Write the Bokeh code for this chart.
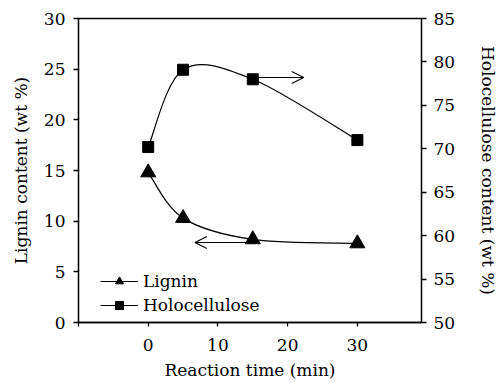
from bokeh.plotting import figure
from bokeh.models import (Range1d, LinearAxis, FixedTicker, Legend, LegendItem,
                          Arrow, OpenHead)
from bokeh.embed import file_html
from bokeh.resources import INLINE

# ---- data ----
time_min = [0, 5, 15, 30]
lignin = [14.8, 10.3, 8.2, 7.8]
holocellulose = [70.2, 79.1, 78.0, 71.0]

x_ticks = [-10, 0, 10, 20, 30]
left_ticks = [0, 5, 10, 15, 20, 25, 30]
right_ticks = [50, 55, 60, 65, 70, 75, 80, 85]

# arrow annotations (data units)
lignin_arrow = dict(x_start=15, x_end=6.7, y=7.9)
holo_arrow = dict(x_start=15, x_end=22.3, y=78.2)

FONT = "DejaVu Serif"
FS = "17px"


def smooth_segments(xs, ys, k=6.0):
    """Catmull-Rom style control points for a smooth curve through the points."""
    n = len(xs)
    px = [xs[0]] + list(xs) + [xs[-1]]
    py = [ys[0]] + list(ys) + [ys[-1]]
    seg = dict(x0=[], y0=[], x1=[], y1=[], cx0=[], cy0=[], cx1=[], cy1=[])
    for i in range(1, n):
        a, b, c, d = i - 1, i, i + 1, i + 2
        seg["x0"].append(px[b]); seg["y0"].append(py[b])
        seg["x1"].append(px[c]); seg["y1"].append(py[c])
        seg["cx0"].append(px[b] + (px[c] - px[a]) / k)
        seg["cy0"].append(py[b] + (py[c] - py[a]) / k)
        seg["cx1"].append(px[c] - (px[d] - px[b]) / k)
        seg["cy1"].append(py[c] - (py[d] - py[b]) / k)
    return seg


p = figure(width=501, height=382, output_backend="svg", toolbar_location=None,
           x_range=Range1d(-10, 39.2), y_range=Range1d(0, 30),
           min_border_left=78, min_border_right=71, min_border_top=18,
           min_border_bottom=59)
p.extra_y_ranges = {"holo": Range1d(50, 85)}

p.xgrid.visible = False
p.ygrid.visible = False
p.outline_line_color = "black"
p.outline_line_width = 1.3
p.background_fill_color = "white"
p.border_fill_color = "white"

# smooth curves
ls = smooth_segments(time_min, lignin)
p.bezier(**ls, line_color="black", line_width=1.2)
hs = smooth_segments(time_min, holocellulose)
p.bezier(**hs, line_color="black", line_width=1.2, y_range_name="holo")

# hidden straight-line renderers, used only for the legend line sample
l_line = p.line(time_min, lignin, line_color="black", line_width=1.2, visible=False)
h_line = p.line(time_min, holocellulose, line_color="black", line_width=1.2,
                y_range_name="holo", visible=False)
l_pts = p.scatter(time_min, lignin, marker="triangle", size=15, color="black")
h_pts = p.scatter(time_min, holocellulose, marker="square", size=11, color="black",
                  y_range_name="holo")

# arrows
p.add_layout(Arrow(end=OpenHead(size=12, line_width=1.1, line_color="black"),
                   x_start=lignin_arrow["x_start"], y_start=lignin_arrow["y"],
                   x_end=lignin_arrow["x_end"], y_end=lignin_arrow["y"],
                   line_width=1.1, line_color="black"))
p.add_layout(Arrow(end=OpenHead(size=12, line_width=1.1, line_color="black"),
                   x_start=holo_arrow["x_start"], y_start=holo_arrow["y"],
                   x_end=holo_arrow["x_end"], y_end=holo_arrow["y"],
                   line_width=1.1, line_color="black", y_range_name="holo"))


def style_axis(ax, standoff_lbl, standoff_axis):
    ax.axis_line_color = "black"
    ax.axis_line_width = 1.3
    ax.major_tick_line_color = "black"
    ax.major_tick_line_width = 1.3
    ax.major_tick_out = 5
    ax.major_tick_in = 0
    ax.minor_tick_line_color = None
    ax.major_label_text_font = FONT
    ax.major_label_text_font_size = FS
    ax.major_label_text_color = "black"
    ax.major_label_standoff = standoff_lbl
    ax.axis_label_text_font = FONT
    ax.axis_label_text_font_size = FS
    ax.axis_label_text_font_style = "normal"
    ax.axis_label_text_color = "black"
    ax.axis_label_standoff = standoff_axis


xa = p.xaxis[0]
xa.ticker = FixedTicker(ticks=x_ticks)
xa.major_label_overrides = {-10: ""}
xa.axis_label = "Reaction time (min)"
style_axis(xa, 12, 6)
xa.major_tick_out = 4

ya = p.yaxis[0]
ya.ticker = FixedTicker(ticks=left_ticks)
ya.axis_label = "Lignin content (wt %)"
style_axis(ya, 8, 10)

ra = LinearAxis(y_range_name="holo", ticker=FixedTicker(ticks=right_ticks),
                axis_label="Holocellulose content (wt %)")
style_axis(ra, 7, 20)
p.add_layout(ra, "right")

legend = Legend(items=[LegendItem(label="Lignin", renderers=[l_line, l_pts]),
                       LegendItem(label="Holocellulose", renderers=[h_line, h_pts])],
                location=(22, 7), glyph_width=38, glyph_height=20,
                label_height=20, label_standoff=5, spacing=4, padding=0, margin=0,
                border_line_color=None, background_fill_alpha=0,
                inactive_fill_alpha=0,
                label_text_font=FONT, label_text_font_size=FS,
                label_text_color="black")
p.add_layout(legend)

open("out.html", "w").write(file_html(p, INLINE))
